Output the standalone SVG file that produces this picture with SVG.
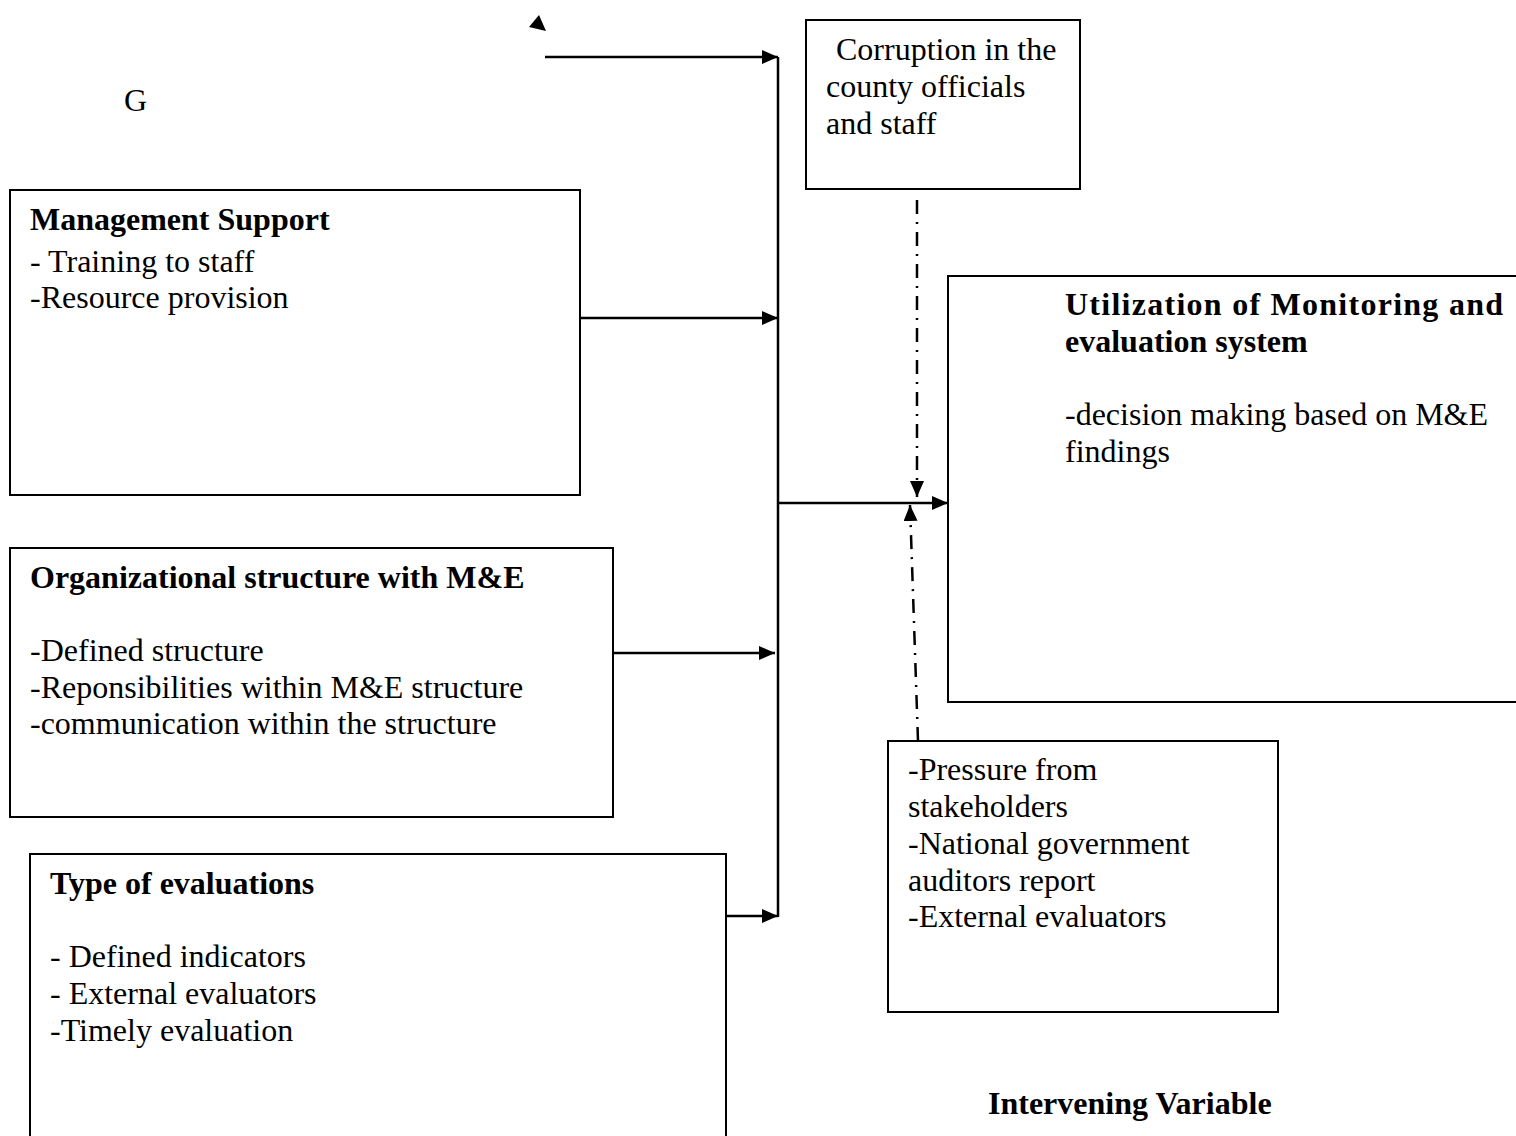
<svg xmlns="http://www.w3.org/2000/svg" width="1516" height="1136" viewBox="0 0 1516 1136">
<style>
.box{fill:#fff;stroke:#000;stroke-width:2}
text{font-family:"Liberation Serif","Times New Roman",serif;font-size:32px;fill:#000}
.b{font-weight:bold}
.ln{stroke:#000;stroke-width:2.5;fill:none}
.dd{stroke:#000;stroke-width:2.5;fill:none;stroke-dasharray:14,8,2,8}
</style>
<defs>
<marker id="a" viewBox="0 0 16 14" refX="16" refY="7" markerWidth="16" markerHeight="14" markerUnits="userSpaceOnUse" orient="auto">
<path d="M0,0 L16,7 L0,14 Z" fill="#000"/>
</marker>
</defs>
<rect width="1516" height="1136" fill="#fff"/>
<text x="124" y="111">G</text>
<g id="connectors">
<path class="ln" d="M778,57 V917"/>
<path class="ln" d="M545,57 H778" marker-end="url(#a)"/>
<path class="ln" d="M580,318 H778" marker-end="url(#a)"/>
<path class="ln" d="M610,653 H775" marker-end="url(#a)"/>
<path class="ln" d="M726,916 H778" marker-end="url(#a)"/>
<path class="ln" d="M778,503 H948" marker-end="url(#a)"/>
<path class="dd" d="M917,200 V497" marker-end="url(#a)"/>
<path class="dd" d="M918,741 L910,505" marker-end="url(#a)"/>
<polygon points="539,15 529,27 546,31" fill="#000"/>
</g>
<g id="corruption">
<rect class="box" x="806" y="20" width="274" height="169"/>
<text x="836" y="60">Corruption in the</text>
<text x="826" y="97">county officials</text>
<text x="826" y="134">and staff</text>
</g>
<g id="management">
<rect class="box" x="10" y="190" width="570" height="305"/>
<text class="b" x="30" y="230">Management Support</text>
<text x="30" y="272">- Training to staff</text>
<text x="30" y="308">-Resource provision</text>
</g>
<g id="utilization">
<rect class="box" x="948" y="276" width="580" height="426"/>
<text class="b" x="1065" y="315" textLength="438" lengthAdjust="spacing">Utilization  of  Monitoring  and</text>
<text class="b" x="1065" y="352">evaluation system</text>
<text x="1065" y="425">-decision making based on M&amp;E</text>
<text x="1065" y="462">findings</text>
</g>
<g id="organizational">
<rect class="box" x="10" y="548" width="603" height="269"/>
<text class="b" x="30" y="588">Organizational structure with M&amp;E</text>
<text x="30" y="661">-Defined structure</text>
<text x="30" y="698">-Reponsibilities within M&amp;E structure</text>
<text x="30" y="734">-communication within the structure</text>
</g>
<g id="pressure">
<rect class="box" x="888" y="741" width="390" height="271"/>
<text x="908" y="780">-Pressure from</text>
<text x="908" y="817">stakeholders</text>
<text x="908" y="854">-National government</text>
<text x="908" y="891">auditors report</text>
<text x="908" y="927">-External evaluators</text>
</g>
<g id="type">
<rect class="box" x="30" y="854" width="696" height="300"/>
<text class="b" x="50" y="894">Type of evaluations</text>
<text x="50" y="967">- Defined indicators</text>
<text x="50" y="1004">- External evaluators</text>
<text x="50" y="1041">-Timely evaluation</text>
</g>
<text class="b" x="988" y="1114">Intervening Variable</text>
</svg>
